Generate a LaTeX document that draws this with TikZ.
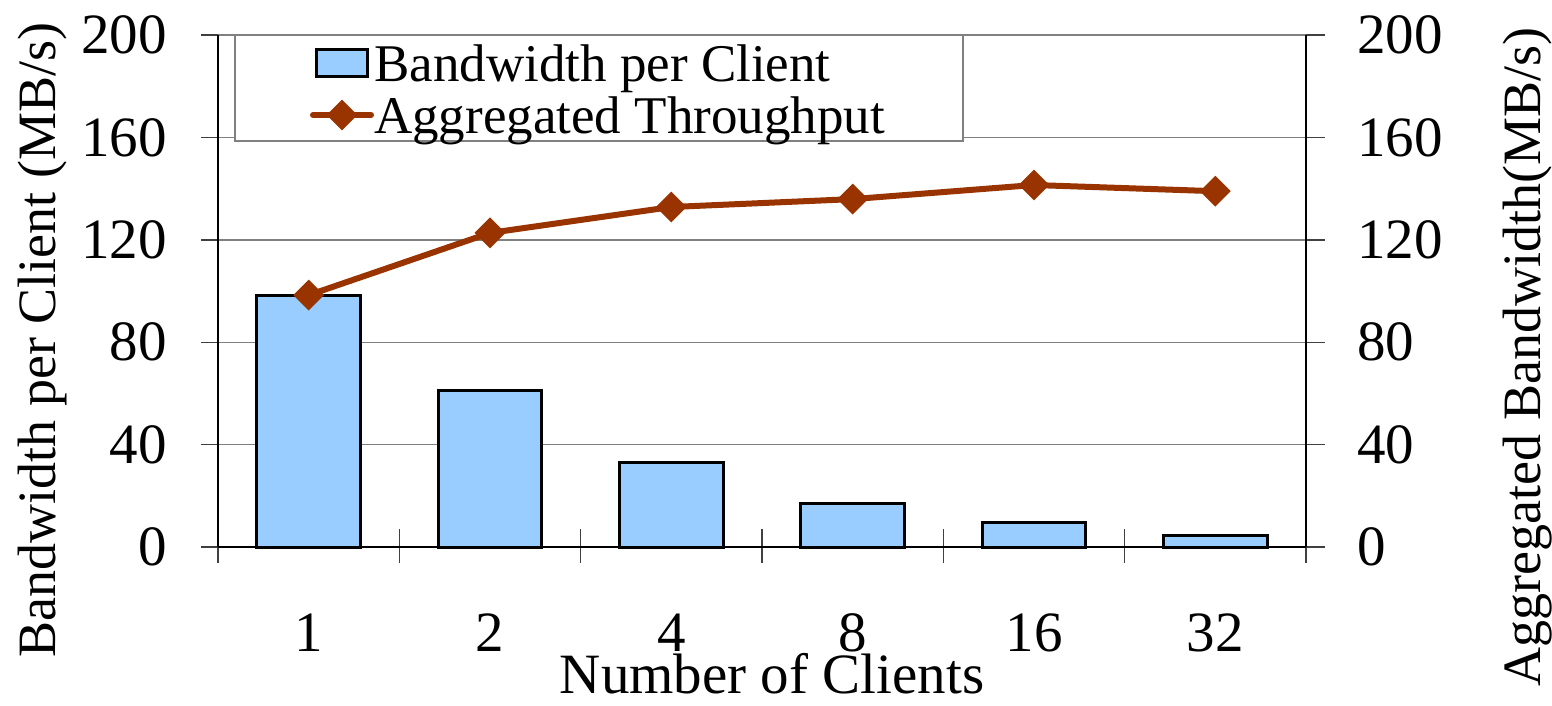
\documentclass[tikz,border=0pt]{standalone}
\usepackage{fontspec}
\setmainfont{Liberation Serif}
\usetikzlibrary{shapes.geometric}
\definecolor{barblue}{HTML}{99CCFF}
\definecolor{linebrown}{HTML}{993300}
\definecolor{gridgray}{HTML}{808080}
\begin{document}
\begin{tikzpicture}[x=1pt,y=-1pt,
  gridline/.style={draw=gridgray,line width=1.4pt},
  tickline/.style={draw=black!75,line width=1.4pt},
  axisline/.style={draw=black,line width=2.4pt},
  barbox/.style={draw=black,fill=barblue,line width=3pt},
  serieline/.style={draw=linebrown,line width=6pt,line cap=round,line join=round},
  marker/.style={shape=diamond,fill=linebrown,minimum width=31pt,minimum height=31pt,inner sep=0pt},
  ticklab/.style={font=\fontsize{57}{60}\selectfont,inner sep=0pt},
  axtitle/.style={font=\fontsize{54}{60}\selectfont,inner sep=0pt},
  legtext/.style={font=\fontsize{53}{60}\selectfont,inner sep=0pt,anchor=base west},
  legbox/.style={draw=gridgray,fill=white,line width=1.5pt}]
\useasboundingbox (0,0) rectangle (1552,705);
% gridlines
\foreach \y in {35,137.4,239.8,342.2,444.6}{
  \draw[gridline] (218,\y) -- (1306,\y);
}
% legend box
\draw[legbox] (235,35) rectangle (963,141);
% bars
\foreach \c/\t in {308.7/295.1,490.0/390.1,671.3/462.0,852.7/503.0,1034.0/522.9,1215.3/535.0}{
  \draw[barbox] (\c-51.8,547) rectangle (\c+51.8,\t);
}
% ticks
\foreach \y in {35,137.4,239.8,342.2,444.6,547}{
  \draw[tickline] (201,\y) -- (218,\y);
  \draw[tickline] (1306,\y) -- (1325,\y);
}
\foreach \k in {0,...,6}{
  \draw[tickline] (218+181.33*\k,529) -- (218+181.33*\k,563);
}
% axes
\draw[axisline] (218,35) -- (218,547);
\draw[axisline] (1306,35) -- (1306,547);
\draw[axisline] (218,547) -- (1306,547);
% tick labels
\foreach \y/\v in {35/200,137.4/160,239.8/120,342.2/80,444.6/40,547/0}{
  \node[ticklab,anchor=east] at (167,\y) {\v};
  \node[ticklab,anchor=west] at (1357,\y) {\v};
}
\foreach \c/\v in {308.7/1,490.0/2,671.3/4,852.7/8,1034.0/16,1215.3/32}{
  \node[ticklab,anchor=base] at (\c,651) {\v};
}
% axis titles
\node[ticklab,anchor=base] (xt) at (772,693) {Number of Clients};
\node[axtitle,rotate=90,anchor=base] (ylt) at (55,340) {Bandwidth per Client (MB/s)};
\node[axtitle,rotate=90,anchor=base] (yrt) at (1540,357) {Aggregated Bandwidth(MB/s)};
% series
\coordinate (p1) at (308.7,295.1);
\coordinate (p2) at (490.0,232.9);
\coordinate (p3) at (671.3,207.0);
\coordinate (p4) at (852.7,199.1);
\coordinate (p5) at (1034.0,185.0);
\coordinate (p6) at (1215.3,191.2);
\draw[serieline] (p1) -- (p2) -- (p3) -- (p4) -- (p5) -- (p6);
\foreach \i in {1,...,6}{
  \node[marker] (m\i) at (p\i) {};
}
% legend entries
\draw[barbox] (316,49) rectangle (367,76);
\coordinate (l1) at (313,115);
\coordinate (l2) at (371,115);
\draw[serieline] (l1) -- (l2);
\node[marker] (lm) at (342,115) {};
\node[legtext] (lt1) at (374,81.7) {Bandwidth per Client};
\node[legtext] (lt2) at (374,133) {Aggregated Throughput};
\end{tikzpicture}
\end{document}
